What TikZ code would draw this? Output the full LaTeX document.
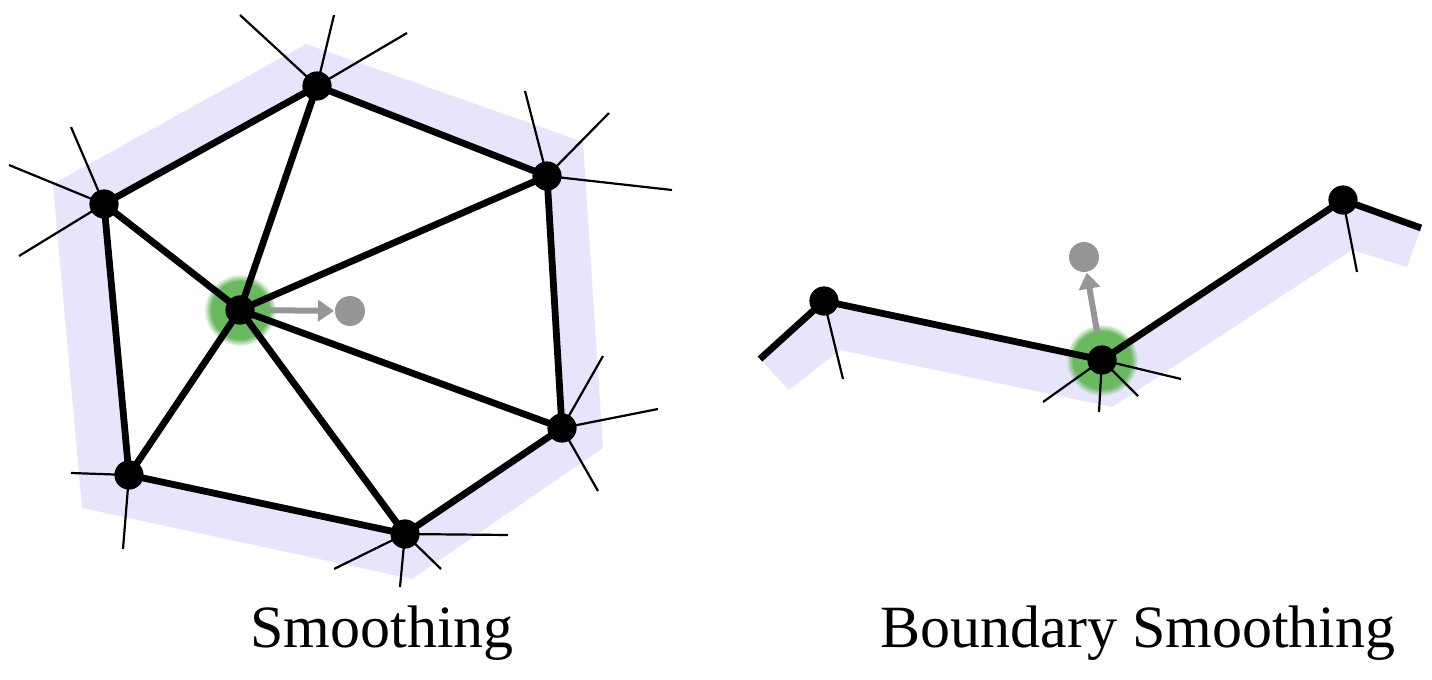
\documentclass[tikz,border=0pt]{standalone}
\usepackage{fontspec}
\setmainfont{Liberation Serif}
\usetikzlibrary{arrows.meta,fadings}
\definecolor{bandcol}{RGB}{230,229,252}
\definecolor{glowcol}{RGB}{105,185,95}
\definecolor{movecol}{RGB}{150,150,150}

\begin{document}
\begin{tikzpicture}[x=0.5pt,y=-0.5pt,
  band/.style={fill=bandcol},
  edge/.style={line width=3.4pt,line join=round},
  spoke/.style={line width=1.1pt},
  glow/.style={fill=glowcol,path fading=circle with fuzzy edge 20 percent},
  movearrow/.style={draw=movecol,line width=3pt,shorten <=14pt,shorten >=8pt,
    -{Triangle[length=8pt,width=10.5pt]}},
  label/.style={anchor=base,font=\fontsize{30}{36}\selectfont}]
\useasboundingbox (0,0) rectangle (1432,680);

% interior smoothing
\coordinate (T) at (317,86);
\coordinate (UL) at (104,204);
\coordinate (UR) at (547,176);
\coordinate (LR) at (562,428);
\coordinate (B) at (405,534);
\coordinate (LL) at (129,475);
\coordinate (C) at (240,310);
\coordinate (P) at (350,311);

\fill[band,even odd rule] (53,184)--(306,44)--(583,142)--(603,448)--(412,579)--(82,508)--cycle
  (UL)--(T)--(UR)--(LR)--(B)--(LL)--cycle;
\fill[glow] (C) circle (18pt);

\draw[spoke] (T)--(240,15); \draw[spoke] (T)--(334,15); \draw[spoke] (T)--(407,33);
\draw[spoke] (UL)--(71,127); \draw[spoke] (UL)--(9,165); \draw[spoke] (UL)--(19,256);
\draw[spoke] (UR)--(525,91); \draw[spoke] (UR)--(609,113); \draw[spoke] (UR)--(672,190);
\draw[spoke] (LR)--(603,356); \draw[spoke] (LR)--(658,409); \draw[spoke] (LR)--(598,491);
\draw[spoke] (B)--(508,535); \draw[spoke] (B)--(441,569); \draw[spoke] (B)--(400,587); \draw[spoke] (B)--(334,569);
\draw[spoke] (LL)--(71,473); \draw[spoke] (LL)--(123,549);

\draw[edge] (UL)--(T)--(UR)--(LR)--(B)--(LL)--cycle;
\draw[edge] (C)--(T); \draw[edge] (C)--(UL); \draw[edge] (C)--(UR);
\draw[edge] (C)--(LR); \draw[edge] (C)--(B); \draw[edge] (C)--(LL);

\foreach \v in {T,UL,UR,LR,B,LL,C} \fill (\v) circle (7.3pt);
\draw[movearrow] (C)--(P);
\fill[movecol] (P) circle (7.5pt);

% boundary smoothing
\coordinate (E1) at (760,359);
\coordinate (L) at (824,301);
\coordinate (M) at (1102,360);
\coordinate (R) at (1343,200);
\coordinate (E2) at (1421,228);
\coordinate (Q) at (1084,257);

\fill[band] (E1)--(L)--(M)--(R)--(E2)--(1407,267)--(1352,250)--(1112,407)--(840,350)--(789,390)--cycle;
\fill[glow] (M) circle (18pt);

\draw[spoke] (L)--(843,379);
\draw[spoke] (R)--(1357,272);
\draw[spoke] (M)--(1181,379); \draw[spoke] (M)--(1138,396);
\draw[spoke] (M)--(1099,412); \draw[spoke] (M)--(1043,402);

\draw[edge] (E1)--(L)--(M)--(R)--(E2);
\foreach \v in {L,M,R} \fill (\v) circle (7.3pt);
\draw[movearrow] (M)--(Q);
\fill[movecol] (Q) circle (7.5pt);

\node[label] (s1) at (382,647) {Smoothing};
\node[label] (s2) at (1138,647) {Boundary Smoothing};
\end{tikzpicture}
\end{document}
